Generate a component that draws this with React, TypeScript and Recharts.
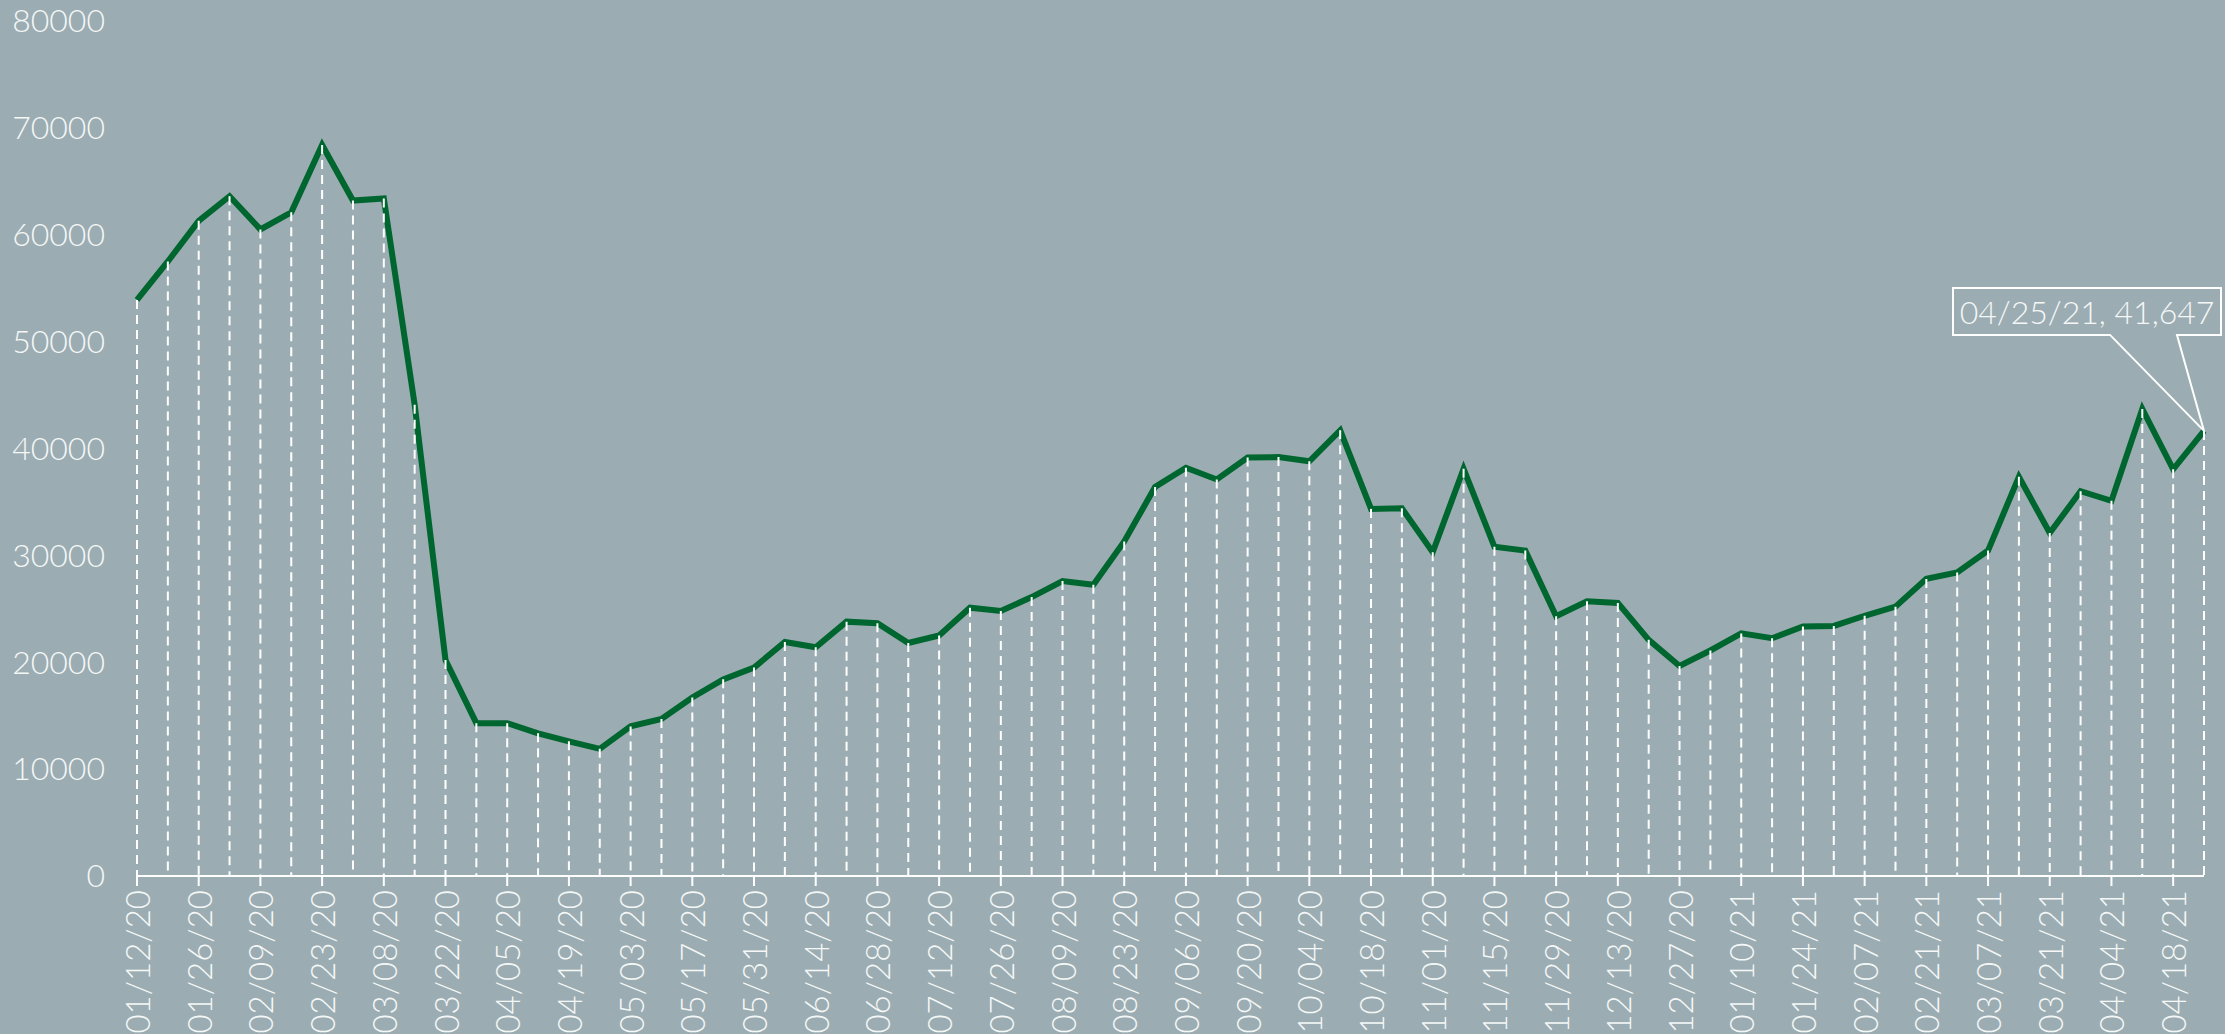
import { LineChart, Line, XAxis, YAxis, ReferenceLine, ReferenceDot } from "recharts";

const dates = [
  "01/12/20", "01/19/20", "01/26/20", "02/02/20", "02/09/20", "02/16/20", "02/23/20", "03/01/20",
  "03/08/20", "03/15/20", "03/22/20", "03/29/20", "04/05/20", "04/12/20", "04/19/20", "04/26/20",
  "05/03/20", "05/10/20", "05/17/20", "05/24/20", "05/31/20", "06/07/20", "06/14/20", "06/21/20",
  "06/28/20", "07/05/20", "07/12/20", "07/19/20", "07/26/20", "08/02/20", "08/09/20", "08/16/20",
  "08/23/20", "08/30/20", "09/06/20", "09/13/20", "09/20/20", "09/27/20", "10/04/20", "10/11/20",
  "10/18/20", "10/25/20", "11/01/20", "11/08/20", "11/15/20", "11/22/20", "11/29/20", "12/06/20",
  "12/13/20", "12/20/20", "12/27/20", "01/03/21", "01/10/21", "01/17/21", "01/24/21", "01/31/21",
  "02/07/21", "02/14/21", "02/21/21", "02/28/21", "03/07/21", "03/14/21", "03/21/21", "03/28/21",
  "04/04/21", "04/11/21", "04/18/21", "04/25/21",
];

const counts = [
  53900, 57500, 61300, 63600, 60500, 62100, 68400, 63200,
  63400, 44100, 20200, 14300, 14300, 13350, 12600, 11900,
  14000, 14700, 16700, 18400, 19500, 21900, 21400, 23800,
  23650, 21800, 22500, 25100, 24800, 26100, 27600, 27250,
  31300, 36400, 38200, 37100, 39150, 39200, 38800, 41700,
  34350, 34400, 30300, 38100, 30800, 30450, 24300, 25700,
  25550, 22100, 19650, 21100, 22700, 22250, 23350, 23400,
  24350, 25200, 27800, 28400, 30450, 37350, 32100, 36000,
  35100, 43700, 38050, 41647,
];

const yTicks = [0, 10000, 20000, 30000, 40000, 50000, 60000, 70000, 80000];

const data = dates.map((date, i) => ({ date, value: counts[i] }));
const last = data[data.length - 1];

const BG = "#9badb2";
const TEXT = "#f5f7f7";
const GREEN = "#00662f";
const FONT = "Lato, 'Open Sans', sans-serif";

function XTick({ x, y, payload }: any) {
  return (
    <text
      x={x}
      y={y}
      transform={`rotate(-90, ${x}, ${y})`}
      textAnchor="end"
      dominantBaseline="central"
      fill={TEXT}
      fontSize={33}
      fontWeight={300}
    >
      {payload.value}
    </text>
  );
}

// callout box pointing at the last value
function Callout({ cx, cy }: any) {
  const label = `${last.date}, ${last.value.toLocaleString("en-US")}`;
  const l = cx - 251, r = cx + 17, t = cy - 143, b = cy - 96;
  const path = `M${l},${t} L${r},${t} L${r},${b} L${cx - 27},${b} L${cx},${cy} L${cx - 94},${b} L${l},${b} Z`;
  return (
    <g>
      <path d={path} fill="none" stroke="#ffffff" strokeWidth={2} />
      <text
        x={(l + r) / 2}
        y={(t + b) / 2}
        textAnchor="middle"
        dominantBaseline="central"
        fill={TEXT}
        fontSize={32}
        fontWeight={300}
      >
        {label}
      </text>
    </g>
  );
}

export default function App() {
  return (
    <div style={{ position: "absolute", left: 0, top: 0, width: 2225, height: 1034, background: BG, fontFamily: FONT }}>
      <LineChart width={2225} height={1034} data={data} margin={{ top: 21, right: 21, left: 0, bottom: 0 }}>
        <XAxis
          dataKey="date"
          interval={1}
          height={158}
          tickSize={10}
          tickMargin={4}
          axisLine={{ stroke: "#ffffff", strokeWidth: 2 }}
          tickLine={{ stroke: "#ffffff", strokeWidth: 2 }}
          tick={<XTick />}
        />
        <YAxis
          domain={[0, 80000]}
          ticks={yTicks}
          width={137}
          axisLine={false}
          tickLine={false}
          tickSize={0}
          tickMargin={32}
          tick={{ fill: TEXT, fontSize: 32, fontWeight: 300 }}
        />
        <Line
          type="linear"
          dataKey="value"
          stroke={GREEN}
          strokeWidth={6}
          dot={false}
          activeDot={false}
          isAnimationActive={false}
        />
        {data.map((d) => (
          <ReferenceLine
            key={d.date}
            segment={[{ x: d.date, y: d.value }, { x: d.date, y: 0 }]}
            stroke="#ffffff"
            strokeWidth={2}
            strokeDasharray="9 6"
          />
        ))}
        <ReferenceDot x={last.date} y={last.value} r={0} shape={(p: any) => <Callout cx={p.cx} cy={p.cy} />} />
      </LineChart>
    </div>
  );
}
